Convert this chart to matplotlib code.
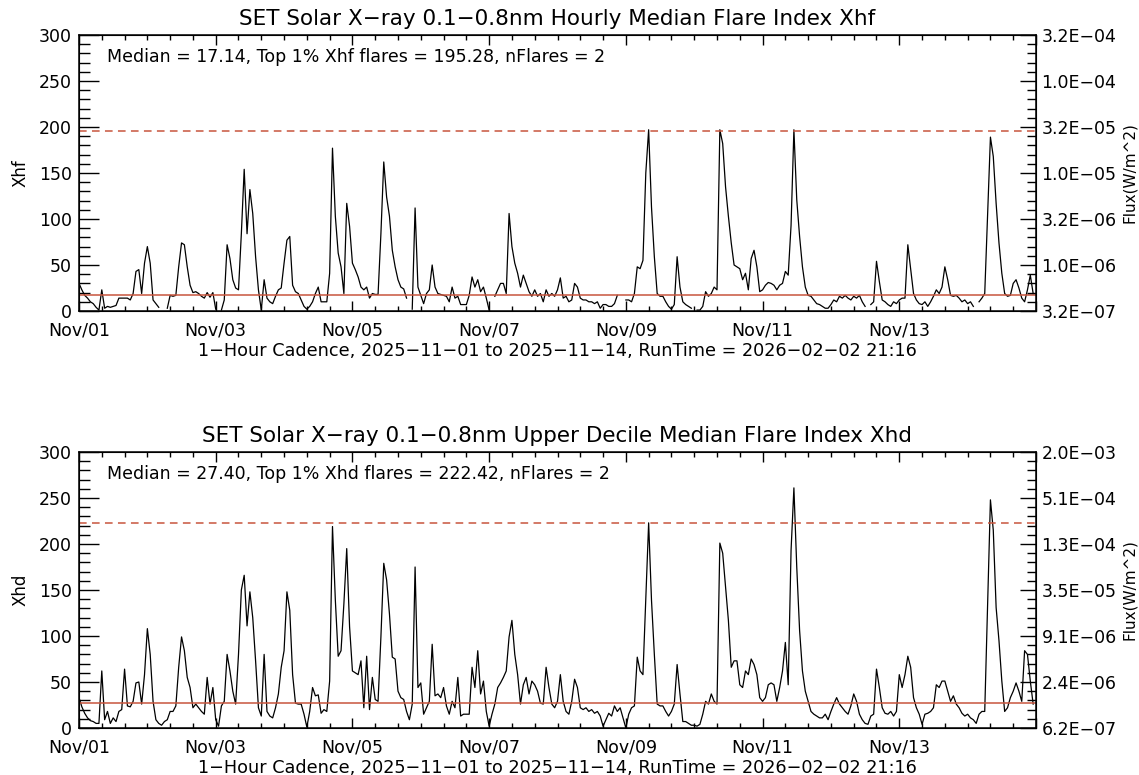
import numpy as np
import matplotlib
matplotlib.use("Agg")
import matplotlib.pyplot as plt
from matplotlib.ticker import MultipleLocator

# hourly flare index values, one row per day (Nov 01 .. Nov 14), None = data gap
xhf = [
    30, 23, 17, 14, 10, 8, 4, 1, 23, 3, 5, 4, 5, 6, 14, 14, 14, 14, 12, 19, 43, 45, 19, 52,
    70, 52, 12, 8, 4, None, None, 3, 17, 16, 17, 48, 74, 72, 48, 28, 20, 21, 19, 16, 14, 20, 15, 20,
    2, None, 1, 12, 72, 57, 34, 25, 23, 84, 154, 84, 132, 106, 59, 23, 1, 34, 14, 10, 8, 16, 23, 25,
    52, 77, 81, 28, 21, 19, 12, 5, 2, 5, 10, 19, 26, 10, 10, 10, 41, 177, 103, 63, 48, 19, 117, 92,
    52, 45, 37, 26, 23, 26, 14, 19, 18, 18, 84, 162, 124, 103, 66, 48, 34, 26, 24, 14, None, 2, 112, 26,
    17, 8, 19, 23, 50, 26, 19, 18, 17, 16, 10, 26, 14, 16, 7, 7, 7, 17, 37, 26, 34, 21, 26, 14,
    1, None, 16, 23, 30, 30, 19, 106, 70, 52, 41, 26, 39, 30, 21, 16, 23, 16, 19, 10, 23, 16, 19, 16,
    23, 36, 14, 16, 10, 12, 30, 26, 14, 12, 12, 10, 10, 8, 10, 3, 7, 7, 5, 5, 8, 17, None, None,
    12, 12, 10, 19, 48, 46, 55, 150, 197, 113, 59, 19, 16, 16, 10, 5, 2, 7, 59, 26, 10, 7, 5, 3,
    None, 1, 1, 5, 21, 16, 19, 26, 23, 197, 182, 135, 103, 74, 50, 48, 46, 34, 41, 23, 57, 66, 48, 21,
    23, 28, 31, 30, 28, 23, 28, 30, 43, 39, 93, 197, 121, 81, 48, 26, 17, 16, 12, 8, 7, 5, 3, 3,
    7, 12, 10, 16, 14, 17, 14, 12, 16, 14, 17, 10, 5, None, 7, 10, 54, 32, 12, 10, 7, 5, 10, 8,
    12, 14, 14, 72, 45, 19, 12, 8, 7, 10, 5, 10, 16, 23, 19, 26, 48, 34, 17, 16, 17, 14, 10, 12,
    8, 10, 5, None, 10, 14, 19, 103, 189, 168, 117, 74, 41, 19, 16, 17, 30, 34, 25, 14, 10, 23, 39, 19,
]

xhd = [
    33, 23, 16, 11, 8, 7, 5, 5, 62, 9, 18, 5, 11, 7, 18, 20, 64, 24, 23, 29, 49, 50, 26, 58,
    108, 80, 29, 9, 5, 3, 7, 9, 18, 18, 24, 66, 99, 84, 55, 44, 22, 26, 22, 18, 15, 55, 26, 44,
    9, 2, 24, 29, 80, 62, 40, 26, 80, 150, 166, 111, 148, 120, 73, 22, 13, 80, 18, 13, 11, 22, 37, 66,
    84, 148, 128, 58, 27, 26, 26, 15, 1, 18, 44, 35, 36, 16, 20, 18, 51, 219, 139, 78, 84, 135, 195, 110,
    62, 60, 58, 73, 22, 78, 20, 55, 31, 29, 99, 179, 161, 124, 77, 75, 40, 33, 31, 18, 9, 26, 175, 44,
    49, 15, 22, 29, 91, 35, 37, 33, 44, 24, 15, 29, 22, 55, 13, 15, 15, 15, 66, 44, 84, 37, 51, 18,
    2, 15, 26, 44, 49, 55, 62, 99, 117, 80, 58, 26, 47, 55, 37, 51, 47, 40, 27, 26, 66, 44, 26, 22,
    29, 58, 29, 18, 15, 29, 53, 44, 22, 20, 22, 18, 20, 16, 18, 13, 2, 9, 16, 13, 24, 18, 22, 11,
    0, 15, 22, 24, 77, 62, 58, 142, 223, 139, 80, 26, 24, 24, 18, 13, 18, 26, 69, 37, 7, 7, 5, 3,
    3, 2, 4, 15, 29, 26, 37, 29, 26, 201, 190, 153, 117, 66, 73, 73, 47, 44, 62, 58, 75, 69, 58, 33,
    29, 33, 47, 49, 47, 29, 44, 62, 93, 47, 193, 261, 175, 106, 62, 40, 29, 18, 15, 13, 11, 11, 15, 9,
    18, 26, 33, 26, 22, 18, 15, 24, 37, 29, 15, 9, 5, 4, 13, 15, 64, 44, 22, 16, 15, 18, 13, 18,
    58, 44, 58, 78, 66, 33, 22, 15, 4, 15, 16, 18, 22, 47, 44, 51, 51, 40, 29, 35, 26, 22, 16, 13,
    15, 11, 9, 5, 15, 18, 18, 131, 248, 215, 131, 95, 51, 18, 22, 33, 40, 49, 40, 29, 84, 80, 51, 26,
]

day_labels = ["Nov/01", "Nov/03", "Nov/05", "Nov/07", "Nov/09", "Nov/11", "Nov/13"]
flux_labels_hf = ["3.2E\u221207", "1.0E\u221206", "3.2E\u221206", "1.0E\u221205",
                  "3.2E\u221205", "1.0E\u221204", "3.2E\u221204"]
flux_labels_hd = ["6.2E\u221207", "2.4E\u221206", "9.1E\u221206", "3.5E\u221205",
                  "1.3E\u221204", "5.1E\u221204", "2.0E\u221203"]

median_hf, top_hf, nflares_hf = 17.14, 195.28, 2
median_hd, top_hd, nflares_hd = 27.40, 222.42, 2

title_hf = "SET Solar X\u2212ray 0.1\u22120.8nm Hourly Median Flare Index Xhf"
title_hd = "SET Solar X\u2212ray 0.1\u22120.8nm Upper Decile Median Flare Index Xhd"
caption = ("1\u2212Hour Cadence, 2025\u221211\u221201 to 2025\u221211\u221214, "
           "RunTime = 2026\u221202\u221202 21:16")

RED = "#c8553d"
W, H = 1139, 775

plt.rcParams["font.family"] = "DejaVu Sans"

fig = plt.figure(figsize=(W / 100, H / 100), dpi=100)


def panel(top_px, values, ylabel, flux_labels, median, top1, nflares, name, title):
    x0, x1 = 79, 1036
    bottom_px = top_px + 276
    ax = fig.add_axes([x0 / W, 1 - bottom_px / H, (x1 - x0) / W, 276 / H])
    t = np.arange(len(values)) / 24.0
    v = np.array(values, dtype=float)
    ax.plot(t, v, color="black", lw=0.9)
    ax.axhline(median, color=RED, lw=1.1)
    ax.axhline(top1, color=RED, lw=1.1, ls=(0, (5, 3.5)))
    ax.set_xlim(0, 14)
    ax.set_ylim(0, 300)

    ax.set_xticks(np.arange(0, 15, 2))
    ax.set_xticklabels(day_labels + [""])
    ax.xaxis.set_minor_locator(MultipleLocator(1 / 3))
    ax.set_yticks(np.arange(0, 301, 50))
    ax.yaxis.set_minor_locator(MultipleLocator(10))
    ax.tick_params(axis="x", which="major", direction="in", length=7.2, width=1,
                   top=True, labelsize=12.5, pad=7.5)
    ax.tick_params(axis="x", which="minor", direction="in", length=3.6, width=1, top=True)
    ax.tick_params(axis="y", which="major", direction="in", length=14.4, width=1,
                   labelsize=12.5, pad=5)
    ax.tick_params(axis="y", which="minor", direction="in", length=8, width=1)
    for s in ax.spines.values():
        s.set_linewidth(1.1)

    ax2 = ax.twinx()
    ax2.set_ylim(0, 300)
    ax2.set_yticks(np.arange(0, 301, 50))
    ax2.set_yticklabels(flux_labels)
    ax2.yaxis.set_minor_locator(MultipleLocator(10))
    ax2.tick_params(axis="y", which="major", direction="in", length=11.5, width=1,
                    labelsize=12.5, pad=4)
    ax2.tick_params(axis="y", which="minor", direction="in", length=6.5, width=1)

    fig.text(20 / W, 1 - (top_px + 138) / H, ylabel, rotation=90, fontsize=12,
             ha="center", va="center")
    fig.text(1129 / W, 1 - (top_px + 138) / H, "Flux(W/m^2)", rotation=90, fontsize=11,
             ha="center", va="center")
    fig.text(557 / W, 1 - (top_px - 16) / H, title, fontsize=15.5, ha="center", va="center")
    fig.text(107 / W, 1 - (top_px + 22) / H,
             f"Median = {median:.2f}, Top 1% {name} flares = {top1:.2f}, nFlares = {nflares}",
             fontsize=12.5, ha="left", va="center")
    fig.text(557 / W, 1 - (bottom_px + 40) / H, caption, fontsize=12.7, ha="center", va="center")


panel(35, xhf, "Xhf", flux_labels_hf, median_hf, top_hf, nflares_hf, "Xhf", title_hf)
panel(452, xhd, "Xhd", flux_labels_hd, median_hd, top_hd, nflares_hd, "Xhd", title_hd)

fig.savefig("out.png", dpi=100, facecolor="white")
